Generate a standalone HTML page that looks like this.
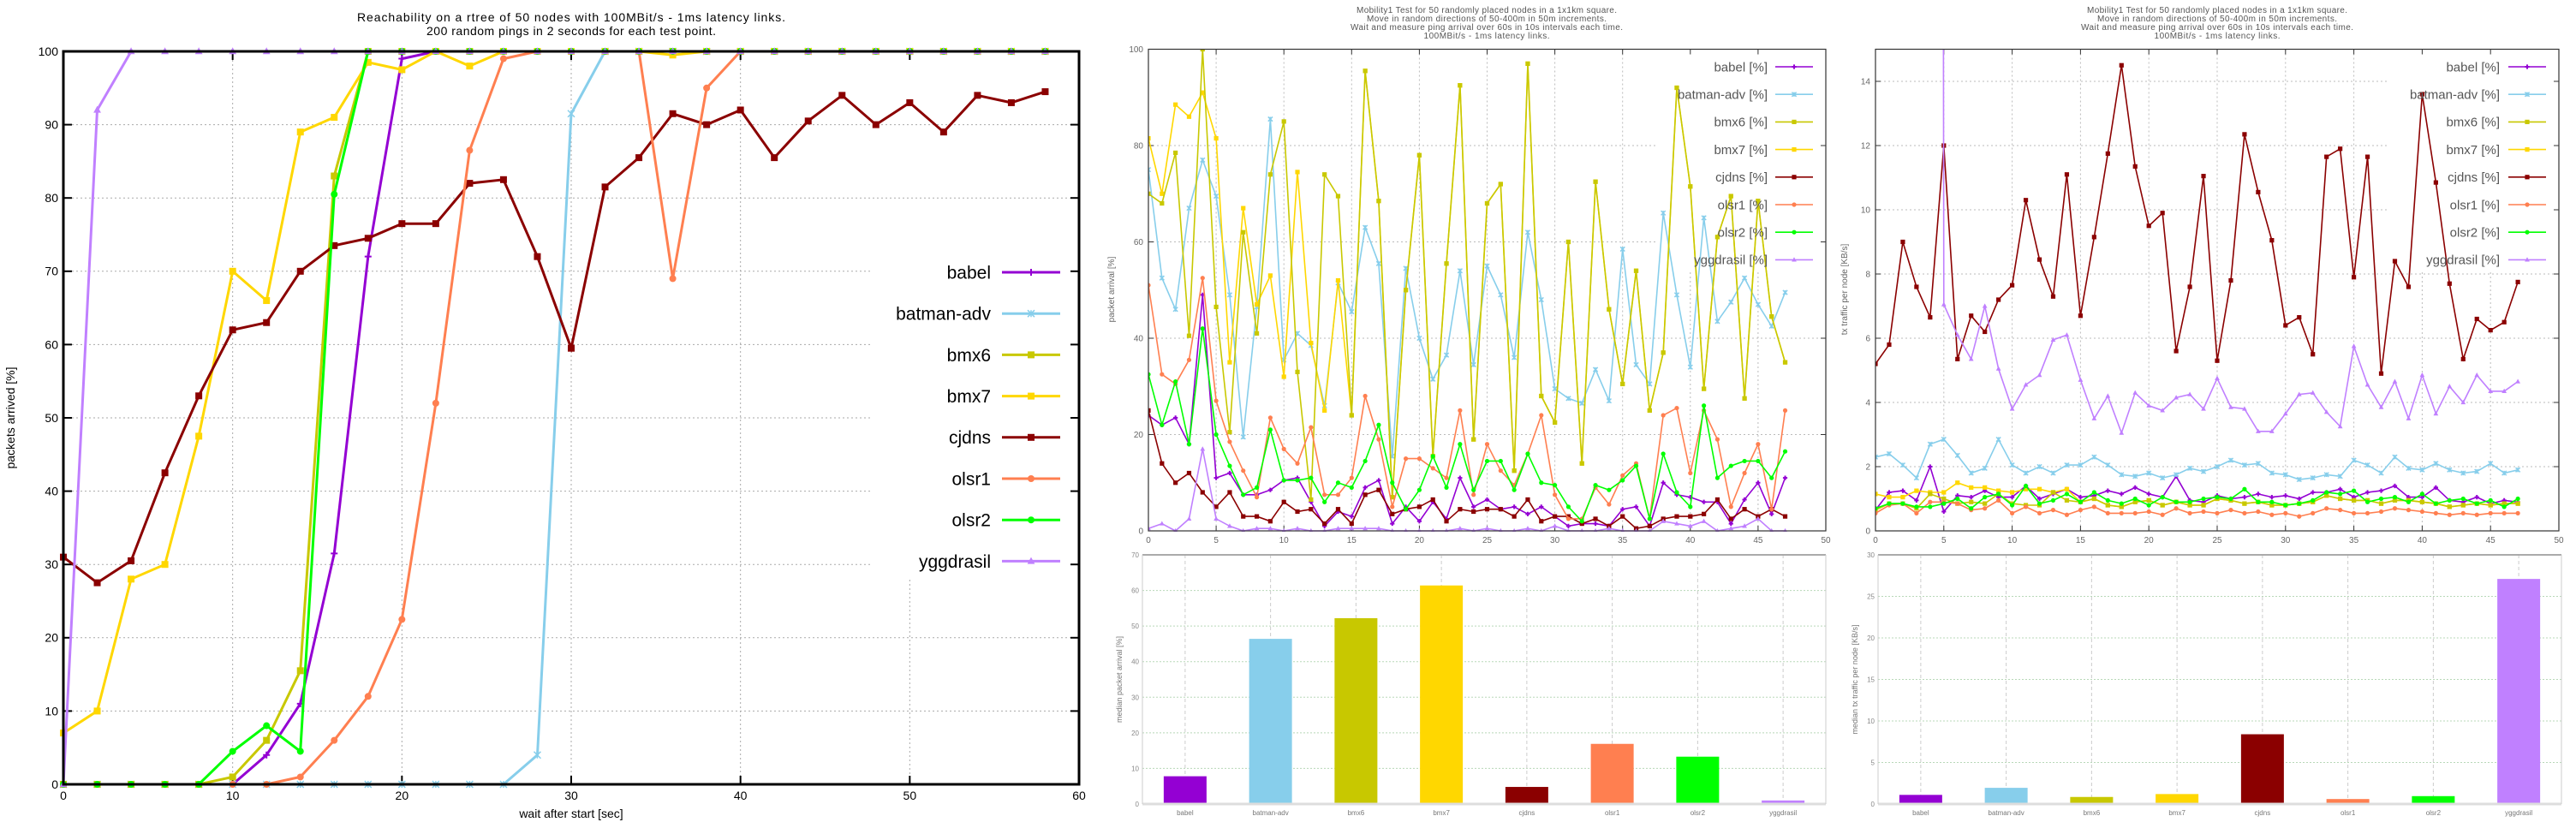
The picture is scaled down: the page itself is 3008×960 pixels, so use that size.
<!DOCTYPE html>
<html><head><meta charset="utf-8"><style>
html,body{margin:0;padding:0;background:#fff;}
svg{display:block;font-family:"Liberation Sans",sans-serif;}
</style></head><body>
<svg id="root" width="3008" height="960" viewBox="0 0 3008 960" xmlns="http://www.w3.org/2000/svg">
<defs>
<clipPath id="clipM"><rect x="1341" y="57" width="791" height="564"/></clipPath>
<clipPath id="clipR"><rect x="2190" y="57" width="798" height="564"/></clipPath>
</defs>
<g id="gL"></g>
<g id="gM"></g>
<g id="gR"></g>
<g id="gBM"></g>
<g id="gBR"></g>
</svg>
<script>
const NAMES=['babel','batman-adv','bmx6','bmx7','cjdns','olsr1','olsr2','yggdrasil'];
// reachability chart
const reachX=[0,2,4,6,8,10,12,14,16,18,20,22,24,26,28,30,32,34,36,38,40,42,44,46,48,50,52,54,56,58];
const reachBabel=[0,0,0,0,0,0,4,11,31.5,72,99,100,100,100,100,100,100,100,100,100,100,100,100,100,100,100,100,100,100,100];
const reachBatman=[0,0,0,0,0,0,0,0,0,0,0,0,0,0,4,91.5,100,100,100,100,100,100,100,100,100,100,100,100,100,100];
const reachBmx6=[0,0,0,0,0,1,6,15.5,83,100,100,100,100,100,100,100,100,100,100,100,100,100,100,100,100,100,100,100,100,100];
const reachBmx7=[7,10,28,30,47.5,70,66,89,91,98.5,97.5,100,98,100,100,100,100,100,99.5,100,100,100,100,100,100,100,100,100,100,100];
const reachCjdns=[31,27.5,30.5,42.5,53,62,63,70,73.5,74.5,76.5,76.5,82,82.5,72,59.5,81.5,85.5,91.5,90,92,85.5,90.5,94,90,93,89,94,93,94.5];
const reachOlsr1=[0,0,0,0,0,0,0,1,6,12,22.5,52,86.5,99,100,100,100,100,69,95,100,100,100,100,100,100,100,100,100,100];
const reachOlsr2=[0,0,0,0,0,4.5,8,4.5,80.5,100,100,100,100,100,100,100,100,100,100,100,100,100,100,100,100,100,100,100,100,100];
const reachYgg=[0,92,100,100,100,100,100,100,100,100,100,100,100,100,100,100,100,100,100,100,100,100,100,100,100,100,100,100,100,100];
const reachTicksX=[0,10,20,30,40,50,60];
const reachTicksY=[0,10,20,30,40,50,60,70,80,90,100];
// mobility arrival chart
const arrBabel=[24,22,23.5,18,49,11,12,7.5,7.5,8.5,10.5,11,6,1,4,3,9,10.5,1.5,5,2,6,2.5,11,5,6.5,4.5,5,3.5,5,3,1,1.5,1.5,1,4.5,5,1,10,7.5,7,6,6,1.5,6.5,10,3.5,11];
const arrBatman=[75,52.5,46,67,77,69.5,49,19.5,46.5,85.5,35.5,41,38.5,26,51.5,45.5,63,55.5,15.5,54.5,40,31.5,36.5,54,34.5,55,49,36,62,48,29.5,27.5,26.5,33.5,27,58.5,34.5,30.5,66,49,34,65,43.5,47.5,52.5,47,42.5,49.5];
const arrBmx6=[70,68,78.5,40.5,100,46.5,20.5,62,41,74,85,33,6.5,74,69.5,24,95.5,68.5,7,50,78,15.5,55.5,92.5,19,68,72,12.5,97,28,22.5,60,14,72.5,46,30.5,54,25,37,92,71.5,29.5,61,69.5,27.5,68.5,44.5,35];
const arrBmx7=[81.5,70,88.5,86,91,81.5,35,67,47,53,32,74.5,39,25,52,24,95.5,68.5,7,50,78,15.5,55.5,92.5,19,68,72,12.5,97,28,22.5,60,14,72.5,46,30.5,54,25,37,92,71.5,29.5,61,69.5,27.5,68.5,44.5,35];
const arrCjdns=[25,14,10,12,8,5,8,3,3,2,6,4,4.5,1.5,4.5,1.5,7.5,8.5,3.5,4.5,5,6.5,2,4.5,4,4.5,4.5,3,6.5,2,3,3,1.5,2.5,1,3,0.5,1,2.5,3,3,3.5,6.5,2.5,4.5,3,4.5,3];
const arrOlsr1=[51,32.5,30.5,35.5,52.5,27,18.5,12.5,7,23.5,17,14,21.5,7.5,7.5,11,28,19,5,15,15,13,11,25,7.5,18,12.5,9.5,16,24,7.5,2.5,2.5,9,5.5,11.5,14,2.5,24,25.5,12,25,19,5,12,18,4.5,25];
const arrOlsr2=[32.5,22,31,18,42,20,13.5,7.5,9,21,10.5,10.5,11,6,10,9,14.5,22,10,4.5,8.5,15.5,9,18,8.5,14.5,14.5,8.5,16,10,9.5,5,2,9.5,8.5,10.5,13.5,2.5,16,8,5,26,11,13.5,14.5,14.5,11,16.5];
const arrYgg=[0.5,1.5,0,2.5,17,2.5,1,0,0.5,0.5,0,0.5,0,0,0.5,0.5,0.5,0.5,0,0,0,0,0,0.5,0,0.5,0,0,0.5,0,1,0,0,0,0.5,0,0,0,2,1.5,1,2,0,0.5,1,2.5,0,0];
const mobTicksX=[0,5,10,15,20,25,30,35,40,45,50];
const arrTicksY=[0,20,40,60,80,100];
// mobility traffic chart
const txBabel=[0.65,1.2,1.25,0.95,2.0,0.6,1.1,1.05,1.25,1.05,1.05,1.4,1.0,1.15,1.3,1.05,1.1,1.25,1.15,1.35,1.15,1.05,1.7,0.95,0.9,1.1,1.0,1.05,1.15,1.05,1.1,1.0,1.2,1.2,1.3,1.05,1.2,1.25,1.4,1.05,1.05,1.35,0.95,0.9,1.05,0.85,0.95,0.9];
const txBatman=[2.3,2.4,2.05,1.65,2.7,2.85,2.35,1.8,1.95,2.85,2.05,1.8,2.0,1.8,2.05,2.05,2.3,2.05,1.75,1.7,1.8,1.65,1.75,1.95,1.85,2.0,2.2,2.05,2.1,1.8,1.75,1.6,1.65,1.75,1.7,2.2,2.05,1.8,2.3,1.95,1.9,2.1,1.9,1.8,1.85,2.1,1.8,1.9];
const txBmx6=[0.65,0.85,0.85,0.7,1.15,1.0,0.85,0.9,0.85,1.15,0.85,0.8,0.8,1.2,0.95,0.9,1.0,0.8,0.75,0.9,0.95,0.8,0.9,0.8,0.8,1.0,0.95,0.85,0.9,0.8,0.8,0.85,0.9,1.1,1.0,0.95,0.95,0.85,0.95,0.95,0.9,0.85,0.75,0.8,0.85,0.8,0.85,0.85];
const txBmx7=[1.15,1.05,1.05,1.25,1.2,1.2,1.5,1.35,1.35,1.25,1.2,1.3,1.3,1.2,1.3,0.9,1.0,0.8,0.75,0.9,0.95,0.8,0.9,0.8,0.8,1.0,0.95,0.85,0.9,0.8,0.8,0.85,0.9,1.1,1.0,0.95,0.95,0.85,0.95,0.95,0.9,0.85,0.75,0.8,0.85,0.8,0.85,0.85];
const txCjdns=[5.2,5.8,9.0,7.6,6.65,12.0,5.35,6.7,6.2,7.2,7.65,10.3,8.45,7.3,11.1,6.7,9.15,11.75,14.5,11.35,9.5,9.9,5.6,7.6,11.05,5.3,7.8,12.35,10.55,9.05,6.4,6.65,5.5,11.65,11.9,7.9,11.65,4.9,8.4,7.6,13.6,10.85,7.7,5.35,6.6,6.25,6.5,7.75];
const txOlsr1=[0.55,0.8,0.85,0.55,0.9,0.9,0.85,0.65,0.7,0.95,0.55,0.75,0.55,0.65,0.5,0.65,0.75,0.55,0.55,0.55,0.6,0.5,0.7,0.55,0.6,0.55,0.65,0.55,0.6,0.5,0.55,0.45,0.55,0.7,0.65,0.55,0.55,0.6,0.7,0.65,0.6,0.55,0.5,0.55,0.5,0.55,0.55,0.55];
const txOlsr2=[0.7,0.85,0.85,0.75,0.75,0.85,1.0,0.7,1.05,1.15,0.8,1.4,0.85,0.95,1.15,0.9,1.2,0.95,0.85,1.0,0.8,1.05,0.9,0.9,1.0,1.05,1.0,1.3,0.9,0.9,0.8,0.85,0.95,1.2,1.15,1.25,0.9,1.0,1.05,0.9,1.15,0.85,0.95,1.0,0.85,0.95,0.75,1.0];
const txYgg=[300,300,300,300,300,7.05,6.1,5.35,7.0,5.05,3.8,4.55,4.85,5.95,6.1,4.7,3.5,4.2,3.05,4.3,3.9,3.75,4.15,4.25,3.8,4.75,3.85,3.8,3.1,3.1,3.65,4.25,4.3,3.7,3.25,5.75,4.55,3.85,4.65,3.5,4.85,3.65,4.5,4.0,4.85,4.35,4.35,4.65];
const txTicksY=[0,2,4,6,8,10,12,14];
// bar charts
const medArrival=[7.8,46.4,52.2,61.4,4.8,16.9,13.3,1.0];
const medTx=[1.1,1.95,0.85,1.2,8.4,0.6,0.95,27.1];
const medArrTicks=[0,10,20,30,40,50,60,70];
const medTxTicks=[0,5,10,15,20,25,30];

const COLORS=['#9400d3','#87ceeb','#c8c800','#ffd700','#8b0000','#ff7f50','#00ff00','#c080ff'];
const MARKS=['plus','x','square','square','square','circle','circle','triangle'];
const NS='http://www.w3.org/2000/svg';
function el(tag,attrs,parent){const e=document.createElementNS(NS,tag);for(const k in attrs)e.setAttribute(k,attrs[k]);parent.appendChild(e);return e;}
function txt(parent,x,y,s,size,anchor,fill,extra){const t=el('text',{x:x,y:y,'font-size':size,'text-anchor':anchor,fill:fill},parent);if(extra)for(const k in extra)t.setAttribute(k,extra[k]);t.textContent=s;return t;}
function marker(g,type,x,y,s,c){
  if(type==='plus'){el('path',{d:`M${x-s} ${y}H${x+s}M${x} ${y-s}V${y+s}`,stroke:c,'stroke-width':2,fill:'none'},g);}
  else if(type==='x'){el('path',{d:`M${x-s} ${y-s}L${x+s} ${y+s}M${x-s} ${y+s}L${x+s} ${y-s}M${x} ${y-s}V${y+s}`,stroke:c,'stroke-width':1.5,fill:'none'},g);}
  else if(type==='square'){el('rect',{x:x-s,y:y-s,width:2*s,height:2*s,fill:c},g);}
  else if(type==='circle'){el('circle',{cx:x,cy:y,r:s,fill:c},g);}
  else {el('path',{d:`M${x} ${y-s*1.2}L${x+s*1.1} ${y+s*0.8}L${x-s*1.1} ${y+s*0.8}Z`,fill:c},g);}
}
function lineChart(g,cfg){
  const X=v=>cfg.l+(v-cfg.x0)*(cfg.r-cfg.l)/(cfg.x1-cfg.x0);
  const Y=v=>cfg.b-(v-cfg.y0)*(cfg.b-cfg.t)/(cfg.y1-cfg.y0);
  const grid=el('g',{},g);
  
  
  cfg.ticksY.forEach(v=>{if(v>cfg.y0&&v<cfg.y1){const right=(Y(v)>cfg.legT&&Y(v)<cfg.legB)?cfg.legL:cfg.r;el('line',{x1:cfg.l,y1:Y(v),x2:right,y2:Y(v),stroke:cfg.gridC,'stroke-width':1,'stroke-dasharray':'2,3'},grid);}});
  cfg.ticksX.forEach(v=>{if(v>cfg.x0&&v<cfg.x1){const x=X(v);if(x>cfg.legL){el('line',{x1:x,y1:cfg.legB,x2:x,y2:cfg.b,stroke:cfg.gridC,'stroke-width':1,'stroke-dasharray':'2,3'},grid);}else el('line',{x1:x,y1:cfg.t,x2:x,y2:cfg.b,stroke:cfg.gridC,'stroke-width':1,'stroke-dasharray':'2,3'},grid);}});
  const tk=el('g',{stroke:cfg.axisC,'stroke-width':cfg.tickW},g);
  cfg.ticksY.forEach(v=>{const y=Y(v);el('line',{x1:cfg.l,y1:y,x2:cfg.l+cfg.tickL,y2:y},tk);el('line',{x1:cfg.r,y1:y,x2:cfg.r-cfg.tickL,y2:y},tk);
    const t=txt(g,cfg.l-6,y+cfg.fs*0.35,String(v),cfg.fs,'end',cfg.labC);});
  cfg.ticksX.forEach(v=>{const x=X(v);el('line',{x1:x,y1:cfg.b,x2:x,y2:cfg.b-cfg.tickL},tk);el('line',{x1:x,y1:cfg.t,x2:x,y2:cfg.t+cfg.tickL},tk);
    const t=txt(g,x,cfg.b+cfg.fs+4,String(v),cfg.fs,'middle',cfg.labC);});
  const sg=el('g',cfg.clip?{'clip-path':`url(#${cfg.clip})`}:{},g);
  const order=cfg.order||[0,1,2,3,4,5,6,7];
  order.forEach(i=>{
    const vals=cfg.series[i];
    const s=el('g',{},sg);
    
    
    const pts=vals.map((v,j)=>X(cfg.xs?cfg.xs[j]:j).toFixed(1)+','+Y(v).toFixed(1)).join(' ');
    el('polyline',{points:pts,fill:'none',stroke:COLORS[i],'stroke-width':cfg.lw,'stroke-linejoin':'miter'},s);
    vals.forEach((v,j)=>marker(s,MARKS[i],X(cfg.xs?cfg.xs[j]:j),Y(v),cfg.ms,COLORS[i]));
  });
  el('rect',{x:cfg.l,y:cfg.t,width:cfg.r-cfg.l,height:cfg.b-cfg.t,fill:'none',stroke:cfg.axisC,'stroke-width':cfg.bw},g);
  const lg=el('g',{},g);
  
  
  NAMES.forEach((n,i)=>{
    const y=cfg.legY0+i*cfg.legDy;
    const e=el('g',{},lg);
    
    
    txt(e,cfg.legTx,y+cfg.legFs*0.35,n+cfg.suffix,cfg.legFs,'end',cfg.legC);
    el('line',{x1:cfg.legS0,y1:y,x2:cfg.legS1,y2:y,stroke:COLORS[i],'stroke-width':cfg.lw},e);
    marker(e,MARKS[i],(cfg.legS0+cfg.legS1)/2,y,cfg.ms,COLORS[i]);
  });
}
function barChart(g,cfg){
  const Y=v=>cfg.b-v*(cfg.b-cfg.t)/cfg.max;
  const step=(cfg.r-cfg.l)/NAMES.length;
  cfg.ticks.forEach(v=>{const y=Y(v);if(v>0&&v<cfg.max)el('line',{x1:cfg.l,y1:y,x2:cfg.r,y2:y,stroke:'#b8d8b8','stroke-width':1,'stroke-dasharray':'2,2'},g);
    const t=txt(g,cfg.l-4,y+3,String(v),8,'end','#888');});
  NAMES.forEach((n,i)=>{const cx=cfg.l+(i+0.5)*step;el('line',{x1:cx,y1:cfg.t,x2:cx,y2:cfg.b,stroke:'#ccc','stroke-width':1,'stroke-dasharray':'4,3'},g);
    const t=txt(g,cx,cfg.b+13,n,8,'middle','#777');});
  cfg.vals.forEach((v,i)=>{const cx=cfg.l+(i+0.5)*step;
    const r=el('rect',{x:cx-25,y:Y(v),width:50,height:cfg.b-Y(v),fill:COLORS[i]},g);
    
    });
  el('line',{x1:cfg.l,y1:cfg.b,x2:cfg.r,y2:cfg.b,stroke:'#ddd','stroke-width':3},g);
  el('line',{x1:cfg.l,y1:cfg.t,x2:cfg.r,y2:cfg.t,stroke:'#aaa','stroke-width':2},g);
  el('line',{x1:cfg.l,y1:cfg.t,x2:cfg.l,y2:cfg.b,stroke:'#ccc','stroke-width':1},g);
  el('line',{x1:cfg.r,y1:cfg.t,x2:cfg.r,y2:cfg.b,stroke:'#ccc','stroke-width':1},g);
  const yl=txt(g,0,0,cfg.ylabel,9,'middle','#777',{transform:`translate(${cfg.l-24},${(cfg.t+cfg.b)/2}) rotate(-90)`});
  
  
}
const gL=document.getElementById('gL'),gM=document.getElementById('gM'),gR=document.getElementById('gR');
let t=txt(gL,667,25,'Reachability on a rtree of 50 nodes with 100MBit/s - 1ms latency links.',14,'middle','#000',{textLength:500});


t=txt(gL,667,41,'200 random pings in 2 seconds for each test point.',14,'middle','#000',{textLength:338});


t=txt(gL,667,955,'wait after start [sec]',14,'middle','#000');


t=txt(gL,0,0,'packets arrived [%]',14,'middle','#000',{transform:'translate(17,488) rotate(-90)'});


lineChart(gL,{l:74,r:1260,t:60,b:916,x0:0,x1:60,y0:0,y1:100,xs:reachX,ticksX:reachTicksX,ticksY:reachTicksY,
  series:[reachBabel,reachBatman,reachBmx6,reachBmx7,reachCjdns,reachOlsr1,reachOlsr2,reachYgg],
  lw:3,ms:4,fs:14,labC:'#000',axisC:'#000',bw:3,tickW:2,tickL:10,gridC:'#aaa',
  legL:1016,legT:293,legB:677,legY0:318,legDy:48.2,legTx:1157,legS0:1170,legS1:1238,legFs:21,legC:'#000',suffix:''});
const mobTitle=['Mobility1 Test for 50 randomly placed nodes in a 1x1km square.','Move in random directions of 50-400m in 50m increments.','Wait and measure ping arrival over 60s in 10s intervals each time.','100MBit/s - 1ms latency links.'];
const mobTL=[304,280,318,147];
[[gM,1736],[gR,2589]].forEach(([g,cx])=>{mobTitle.forEach((s,i)=>{const tt=txt(g,cx,15+i*10,s,10,'middle','#555',{textLength:mobTL[i]});
  
  });});
t=txt(gM,0,0,'packet arrival [%]',10,'middle','#666',{transform:'translate(1301,338) rotate(-90)'});


t=txt(gR,0,0,'tx traffic per node [KB/s]',10,'middle','#666',{transform:'translate(2157,338) rotate(-90)'});


lineChart(gM,{l:1341,r:2132,t:57.5,b:620,x0:0,x1:50,y0:0,y1:100,ticksX:mobTicksX,ticksY:arrTicksY,clip:'clipM',order:[0,1,3,2,4,5,6,7],
  series:[arrBabel,arrBatman,arrBmx6,arrBmx7,arrCjdns,arrOlsr1,arrOlsr2,arrYgg],
  lw:1.6,ms:2.6,fs:10,labC:'#666',axisC:'#333',bw:1.2,tickW:1,tickL:6,gridC:'#bbb',
  legL:1934,legT:50,legB:318,legY0:78,legDy:32.2,legTx:2064,legS0:2073,legS1:2117,legFs:15,legC:'#555',suffix:' [%]'});
lineChart(gR,{l:2190,r:2988,t:57.5,b:620,x0:0,x1:50,y0:0,y1:15,ticksX:mobTicksX,ticksY:txTicksY,clip:'clipR',order:[0,1,3,2,4,5,6,7],
  series:[txBabel,txBatman,txBmx6,txBmx7,txCjdns,txOlsr1,txOlsr2,txYgg],
  lw:1.6,ms:2.6,fs:10,labC:'#666',axisC:'#333',bw:1.2,tickW:1,tickL:6,gridC:'#bbb',
  legL:2787,legT:50,legB:318,legY0:78,legDy:32.2,legTx:2919,legS0:2929,legS1:2973,legFs:15,legC:'#555',suffix:' [%]'});
barChart(document.getElementById('gBM'),{l:1334,r:2132,t:648,b:939,max:70,ticks:medArrTicks,vals:medArrival,ylabel:'median packet arrival [%]'});
barChart(document.getElementById('gBR'),{l:2193,r:2991,t:648,b:939,max:30,ticks:medTxTicks,vals:medTx,ylabel:'median tx traffic per node [KB/s]'});
</script>
</body></html>
